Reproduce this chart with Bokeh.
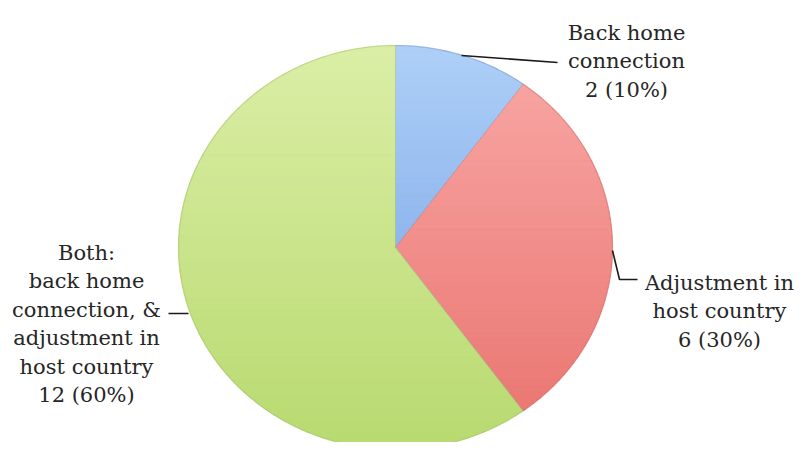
import numpy as np
from bokeh.plotting import figure
from bokeh.models import Range1d, ColumnDataSource
from bokeh.core.properties import value
from bokeh.embed import file_html
from bokeh.resources import INLINE

# ---------------- data ----------------
categories = [
    "Back home connection",
    "Adjustment in host country",
    "Both: back home connection, & adjustment in host country",
]
counts = [2, 6, 12]
label_lines = [
    ["Back home", "connection"],
    ["Adjustment in", "host country"],
    ["Both:", "back home", "connection, &", "adjustment in", "host country"],
]

# ---------------- styling / layout ----------------
top_colors = ["#aed0f8", "#f9a9a7", "#dbeea6"]
bottom_colors = ["#6f9be0", "#e9736e", "#b8da70"]
edge_colors = ["#6f92cc", "#d06661", "#9dbd5e"]

W, H = 796, 442
CX, CY = 395.0, 247.0
RX, RY = 217.0, 202.0
FONT = "DejaVu Serif"
FSIZE = "21px"
LINE_STEP = 28.5
# label anchors: (center x, first baseline y)
label_anchor = [(626, 32), (719, 282), (86, 252)]
# leader lines
leaders = [
    ([461, 557], [55, 62]),
    ([612, 619, 637], [250, 279, 279]),
    ([168, 188], [313, 313]),
]

p = figure(width=W, height=H,
           x_range=Range1d(0, W), y_range=Range1d(H, 0),
           output_backend="svg", toolbar_location=None,
           x_axis_location=None, y_axis_location=None, min_border=0)
p.grid.visible = False
p.outline_line_color = None
p.background_fill_color = "white"
p.border_fill_color = "white"


def hex2rgb(h):
    h = h.lstrip("#")
    return np.array([int(h[i:i + 2], 16) for i in (0, 2, 4)], dtype=float)


def rgb2hex(c):
    c = np.clip(np.round(c), 0, 255).astype(int)
    return "#%02x%02x%02x" % tuple(c)


def clip_half(poly, yb, keep_above):
    out = []
    n = len(poly)
    for i in range(n):
        a = poly[i]
        b = poly[(i + 1) % n]
        ina = a[1] >= yb if keep_above else a[1] <= yb
        inb = b[1] >= yb if keep_above else b[1] <= yb
        if ina:
            out.append(a)
        if ina != inb:
            t = (yb - a[1]) / (b[1] - a[1])
            out.append((a[0] + t * (b[0] - a[0]), yb))
    return out


total = float(sum(counts))
fracs = [c / total for c in counts]
ytop, ybot = CY - RY, CY + RY
NB = 70
edges = np.linspace(ytop, ybot, NB + 1)

band_xs, band_ys, band_cols = [], [], []
arc_xs, arc_ys, arc_cols = [], [], []
start = 0.0
for i, f in enumerate(fracs):
    end = start + f * 2 * np.pi
    th = np.linspace(start, end, max(int(f * 400), 20))
    ax = CX + RX * np.sin(th)
    ay = CY - RY * np.cos(th)
    poly = [(CX, CY)] + list(zip(ax, ay))
    arc_xs.append(list(ax)); arc_ys.append(list(ay)); arc_cols.append(edge_colors[i])
    c0, c1 = hex2rgb(top_colors[i]), hex2rgb(bottom_colors[i])
    for b in range(NB):
        y0, y1 = edges[b] - 0.4, edges[b + 1] + 0.4
        q = clip_half(poly, y0, True)
        if len(q) < 3:
            continue
        q = clip_half(q, y1, False)
        if len(q) < 3:
            continue
        t = ((edges[b] + edges[b + 1]) / 2 - ytop) / (ybot - ytop)
        band_xs.append([pt[0] for pt in q])
        band_ys.append([pt[1] for pt in q])
        band_cols.append(rgb2hex(c0 + (c1 - c0) * t))
    start = end

p.patches(xs="xs", ys="ys", fill_color="c", line_color="c", line_width=0.6,
          source=ColumnDataSource(dict(xs=band_xs, ys=band_ys, c=band_cols)))
p.multi_line(xs="xs", ys="ys", line_color="c", line_width=1.2, line_alpha=0.5,
             source=ColumnDataSource(dict(xs=arc_xs, ys=arc_ys, c=arc_cols)))

# radial separators (slight shading)
start = 0.0
sep_x, sep_y = [], []
for f in fracs:
    sep_x.append([CX, CX + RX * np.sin(start)])
    sep_y.append([CY, CY - RY * np.cos(start)])
    start += f * 2 * np.pi
p.multi_line(xs=sep_x, ys=sep_y, line_color="#5a7a8a", line_width=0.8, line_alpha=0.35)

# leader lines
p.multi_line(xs=[l[0] for l in leaders], ys=[l[1] for l in leaders],
             line_color="#1a1a1a", line_width=1.6)

# labels
tx, ty, tt = [], [], []
for i, lines in enumerate(label_lines):
    pct = int(round(100 * counts[i] / total))
    full = lines + [f"{counts[i]} ({pct}%)"]
    x0, y0 = label_anchor[i]
    for k, s in enumerate(full):
        tx.append(x0)
        ty.append(y0 + k * LINE_STEP)
        tt.append(s)
p.text(x=tx, y=ty, text=tt, text_font=value(FONT), text_font_size=FSIZE,
       text_align="center", text_baseline="alphabetic", text_color="#262626")

open("out.html", "w").write(file_html(p, INLINE))
